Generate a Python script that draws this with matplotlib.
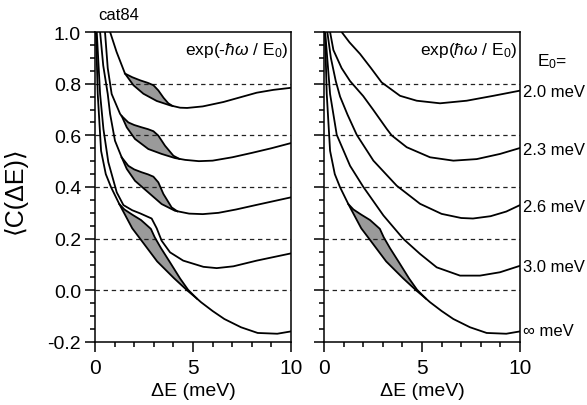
import numpy as np
import matplotlib
matplotlib.use("Agg")
import matplotlib.pyplot as plt
from matplotlib.ticker import MultipleLocator, FormatStrFormatter

plt.rcParams['font.family'] = ['Liberation Sans', 'DejaVu Sans']
plt.rcParams['mathtext.fontset'] = 'custom'
plt.rcParams['mathtext.rm'] = 'Liberation Sans'
plt.rcParams['mathtext.it'] = 'Liberation Sans:italic'
plt.rcParams['axes.unicode_minus'] = False

# ---------------- data ----------------
e0_labels = ["2.0 meV", "2.3 meV", "2.6 meV", "3.0 meV", "\u221e meV"]
e0_label_y = [0.768, 0.547, 0.326, 0.094, -0.157]
ref_levels = [0.0, 0.2, 0.4, 0.6, 0.8]

# left panel, exp(-hw/E0)
L1_x = [0.68, 0.77, 1.1, 1.53, 1.96, 2.47, 3.15, 3.83, 4.34, 4.7, 5.5, 6.55, 7.4, 8.25, 9.1, 10]
L1_y = [1.05, 1.0, 0.923, 0.839, 0.794, 0.761, 0.733, 0.716, 0.707, 0.706, 0.712, 0.729, 0.747, 0.765, 0.776, 0.784]
L1s_x = [1.53, 1.9, 2.30, 2.7, 2.98, 3.23, 3.5, 3.74, 3.95]
L1s_y = [0.839, 0.825, 0.813, 0.803, 0.794, 0.774, 0.745, 0.724, 0.714]

L2_x = [0.46, 0.51, 0.65, 0.85, 1.28, 1.36, 1.62, 2.04, 2.72, 3.40, 4.08, 4.6, 5.3, 6.0, 7.0, 8.0, 9.0, 10]
L2_y = [1.05, 1.0, 0.86, 0.76, 0.683, 0.675, 0.631, 0.586, 0.547, 0.528, 0.512, 0.505, 0.500, 0.502, 0.515, 0.532, 0.550, 0.570]
L2s_x = [1.36, 1.70, 2.0, 2.38, 2.7, 2.98, 3.23, 3.57, 4.0, 4.3]
L2s_y = [0.675, 0.650, 0.640, 0.631, 0.624, 0.616, 0.599, 0.560, 0.521, 0.509]

L3_x = [0.22, 0.26, 0.42, 0.65, 0.77, 1.02, 1.36, 1.62, 2.04, 2.72, 3.40, 4.08, 4.8, 5.5, 6.3, 7.2, 8.2, 9.1, 10]
L3_y = [1.05, 1.0, 0.87, 0.76, 0.683, 0.579, 0.515, 0.470, 0.424, 0.379, 0.334, 0.308, 0.297, 0.295, 0.300, 0.313, 0.330, 0.345, 0.360]
L3s_x = [1.36, 1.70, 2.0, 2.38, 2.7, 2.98, 3.23, 3.49, 3.91, 4.2]
L3s_y = [0.515, 0.482, 0.468, 0.457, 0.449, 0.440, 0.418, 0.373, 0.321, 0.306]

L4_x = [0.07, 0.09, 0.26, 0.43, 0.68, 1.11, 1.45, 1.9, 2.30, 2.89, 3.15, 3.40, 3.83, 4.5, 5.53, 6.21, 7.06, 8.25, 10]
L4_y = [1.1, 1.0, 0.76, 0.624, 0.496, 0.379, 0.330, 0.310, 0.298, 0.278, 0.240, 0.192, 0.147, 0.115, 0.091, 0.086, 0.093, 0.115, 0.143]

# E0 = infinity (same in both panels)
C5_x = [0.03, 0.05, 0.14, 0.31, 0.55, 0.82, 1.24, 1.5, 1.9, 2.3, 3.17, 4.03, 4.7, 5.2, 5.41, 6.0, 6.6, 7.45, 8.3, 9.3, 10]
C5_y = [1.1, 1.0, 0.76, 0.54, 0.45, 0.399, 0.334, 0.297, 0.240, 0.200, 0.112, 0.047, 0.0, -0.032, -0.046, -0.080, -0.111, -0.143, -0.165, -0.168, -0.159]
C5s_x = [1.24, 1.5, 1.9, 2.35, 2.85, 3.05, 3.37, 3.83, 4.34, 4.75, 5.2]
C5s_y = [0.334, 0.313, 0.293, 0.272, 0.238, 0.205, 0.163, 0.108, 0.046, 0.002, -0.032]

# right panel, exp(+hw/E0)
R1_x = [0.85, 0.90, 1.3, 1.84, 2.4, 2.94, 3.88, 4.73, 5.92, 7.28, 8.64, 10]
R1_y = [1.03, 1.0, 0.96, 0.915, 0.86, 0.805, 0.753, 0.734, 0.724, 0.734, 0.753, 0.773]
R2_x = [0.28, 0.31, 0.48, 0.9, 1.33, 2.0, 2.5, 3.2, 3.45, 4.22, 5.41, 6.6, 7.79, 8.98, 10]
R2_y = [1.03, 1.0, 0.93, 0.86, 0.81, 0.752, 0.70, 0.625, 0.60, 0.554, 0.515, 0.502, 0.508, 0.528, 0.551]
R3_x = [0.14, 0.17, 0.35, 0.6, 0.82, 1.2, 1.67, 2.52, 3.71, 4.9, 6.0, 7.0, 7.6, 8.5, 9.3, 10]
R3_y = [1.05, 1.0, 0.9, 0.81, 0.75, 0.68, 0.602, 0.502, 0.405, 0.335, 0.296, 0.280, 0.278, 0.287, 0.305, 0.330]
R4_x = [0.05, 0.06, 0.31, 0.65, 1.33, 2.0, 3.03, 4.05, 4.9, 5.75, 6.94, 7.96, 8.98, 10]
R4_y = [1.05, 1.0, 0.76, 0.602, 0.482, 0.401, 0.29, 0.199, 0.141, 0.089, 0.057, 0.057, 0.07, 0.095]

# ---------------- figure ----------------
fig = plt.figure(figsize=(5.87, 4.06), dpi=100)
W, H = 587.0, 406.0
axL = fig.add_axes([95 / W, 1 - 343 / H, 196 / W, 310 / H])
axR = fig.add_axes([324 / W, 1 - 343 / H, 196 / W, 310 / H])

LW = 1.3
SHADE = '#9a9a9a'


def shade(ax, mx, my, sx, sy):
    mx = np.asarray(mx); my = np.asarray(my)
    m = (mx > sx[0]) & (mx < sx[-1])
    px = list(sx) + list(mx[m][::-1])
    py = list(sy) + list(my[m][::-1])
    ax.fill(px, py, color=SHADE, lw=0, zorder=1)
    ax.plot(sx, sy, color='k', lw=LW, zorder=3)


for ax in (axL, axR):
    ax.set_xlim(0, 10)
    ax.set_ylim(-0.2, 1.0)
    for lv in ref_levels:
        ax.axhline(lv, color='#222222', lw=0.9, ls=(0, (3.5, 3)), zorder=2)
    ax.xaxis.set_major_locator(MultipleLocator(5))
    ax.xaxis.set_minor_locator(MultipleLocator(1))
    ax.yaxis.set_major_locator(MultipleLocator(0.2))
    ax.yaxis.set_minor_locator(MultipleLocator(0.05))
    ax.tick_params(which='both', direction='out', top=False, right=False, width=1.1)
    ax.tick_params(which='major', length=7, labelsize=14, pad=3)
    ax.tick_params(axis='x', which='major', labelsize=15, pad=4.5)
    ax.tick_params(which='minor', length=3.8)
    for s in ax.spines.values():
        s.set_linewidth(1.1)
    ax.plot(C5_x, C5_y, color='k', lw=LW, zorder=3)
    shade(ax, C5_x, C5_y, C5s_x, C5s_y)

axL.yaxis.set_major_formatter(FormatStrFormatter('%.1f'))
axR.set_yticklabels([])

# left panel curves
for (mx, my, sx, sy) in [(L1_x, L1_y, L1s_x, L1s_y), (L2_x, L2_y, L2s_x, L2s_y), (L3_x, L3_y, L3s_x, L3s_y)]:
    axL.plot(mx, my, color='k', lw=LW, zorder=3)
    shade(axL, mx, my, sx, sy)
axL.plot(L4_x, L4_y, color='k', lw=LW, zorder=3)

# right panel curves
for (mx, my) in [(R1_x, R1_y), (R2_x, R2_y), (R3_x, R3_y), (R4_x, R4_y)]:
    axR.plot(mx, my, color='k', lw=LW, zorder=3)

# texts
axL.text(0.985, 0.945, r'exp(-$\hbar\omega$ / E$_0$)', transform=axL.transAxes,
         ha='right', va='center', fontsize=12.5)
axR.text(0.985, 0.945, r'exp($\hbar\omega$ / E$_0$)', transform=axR.transAxes,
         ha='right', va='center', fontsize=12.5)
axR.text(11.63, 0.888, r'E$_0$=', ha='center', va='center', fontsize=12.5, clip_on=False)
for lab, yy in zip(e0_labels, e0_label_y):
    axR.text(10.15, yy, lab, ha='left', va='center', fontsize=12, clip_on=False)

fig.text(98 / W, 1 - 16 / H, 'cat84', ha='left', va='center', fontsize=12)
fig.text(15 / W, 1 - 190 / H, '\u27e8C(\u0394E)\u27e9', rotation=90, ha='center', va='center', fontsize=18)
fig.text(193 / W, 1 - 392 / H, '\u0394E (meV)', ha='center', va='center', fontsize=14)
fig.text(422 / W, 1 - 392 / H, '\u0394E (meV)', ha='center', va='center', fontsize=14)

fig.savefig('out.png', dpi=100)
